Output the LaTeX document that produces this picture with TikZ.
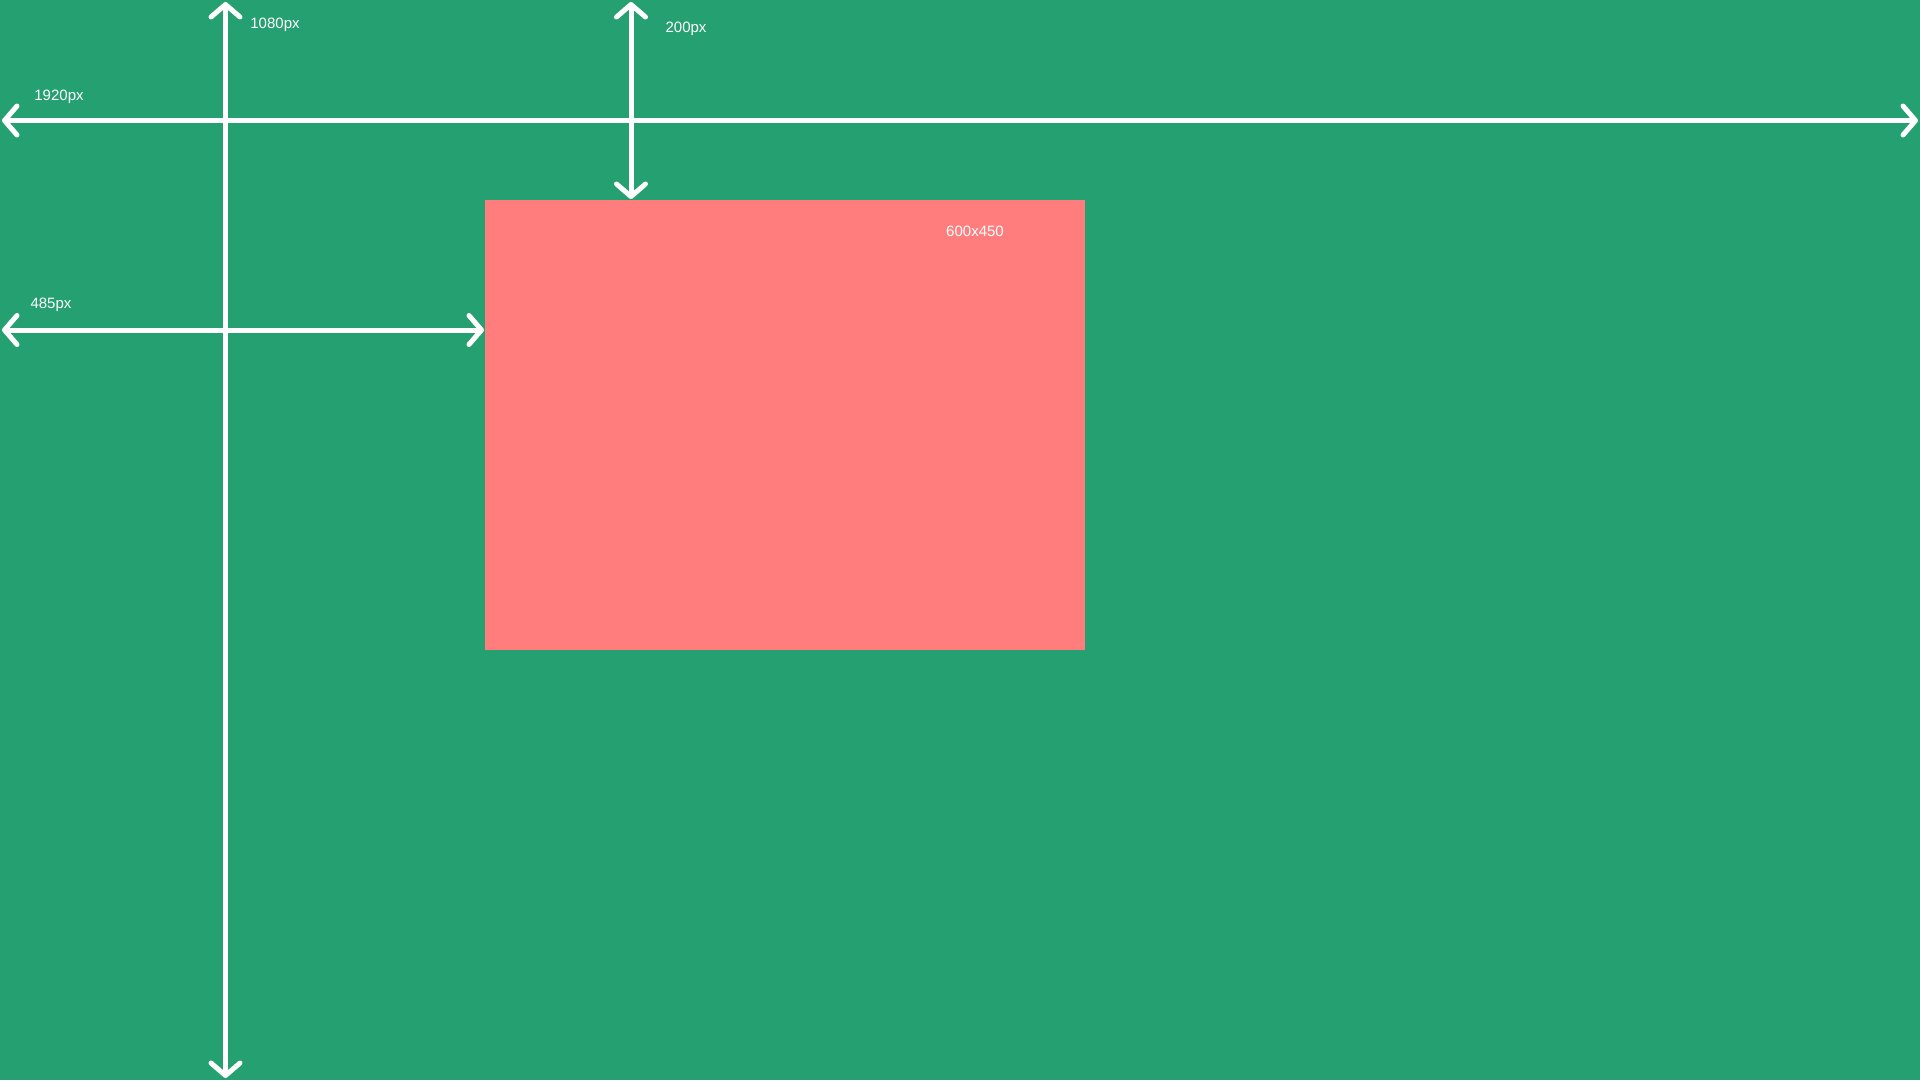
\documentclass[tikz,border=0pt]{standalone}
\usepackage{fontspec}
\setmainfont{Liberation Sans}
\usetikzlibrary{arrows.meta}
\definecolor{bggreen}{RGB}{37,160,112}
\definecolor{boxred}{RGB}{255,125,125}
\tikzset{
  dimarrow/.style={draw=white, line width=5pt, line cap=round,
    {Straight Barb[length=12.5pt,width=29pt,round]}-{Straight Barb[length=12.5pt,width=29pt,round]}},
  dimlabel/.style={text=white, font=\fontsize{15}{18}\selectfont, inner sep=0pt},
}
\begin{document}
\begin{tikzpicture}[x=1pt,y=-1pt]
\fill[bggreen] (0,0) rectangle (1920,1080);
\useasboundingbox (0,0) rectangle (1920,1080);
\node[fill=boxred, minimum width=600pt, minimum height=450pt, inner sep=0pt, anchor=north west] (box) at (485,200) {};
\node[dimlabel] (lbox) at (975,231) {600x450};
% coordinates
\coordinate (hL) at (2,120.5);
\coordinate (hR) at (1918,120.5);
\coordinate (vT) at (225.5,2);
\coordinate (vB) at (225.5,1078);
\coordinate (tT) at (631,2);
\coordinate (tB) at (631,199);
\coordinate (lL) at (2,330);
\coordinate (lR) at (484,330);
\draw[dimarrow] (hL) -- (hR);
\draw[dimarrow] (vT) -- (vB);
\draw[dimarrow] (tT) -- (tB);
\draw[dimarrow] (lL) -- (lR);
\node[dimlabel] (l1920) at (59,97) {1920px};
\node[dimlabel] (l1080) at (275,25) {1080px};
\node[dimlabel] (l200) at (686,29) {200px};
\node[dimlabel] (l485) at (51,305) {485px};
\end{tikzpicture}
\end{document}
